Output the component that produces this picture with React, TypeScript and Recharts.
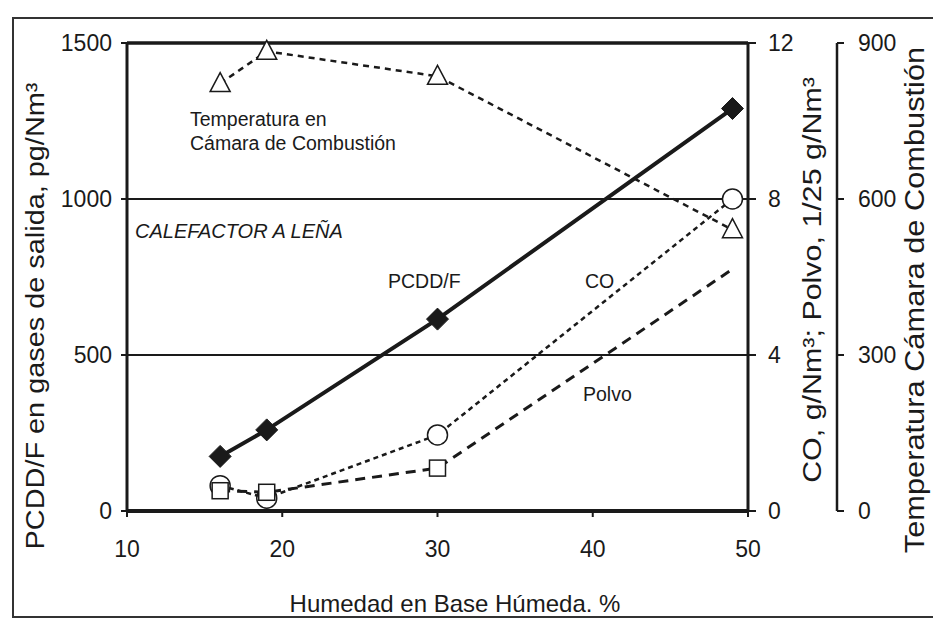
import { CartesianGrid, ComposedChart, Line, ReferenceLine, XAxis, YAxis } from "recharts";

// humedad en base húmeda (%)
const humedad = [16, 19, 30, 49];
const pcddf = [175, 260, 615, 1290];
const co = [0.65, 0.33, 1.95, 8.0];
const polvo = [0.52, 0.48, 1.1, 6.2];
const temperatura = [822, 884, 836, 541];

const xTicks = [10, 20, 30, 40, 50];
const pcddTicks = [0, 500, 1000, 1500];
const coTicks = [0, 4, 8, 12];
const tempTicks = [0, 300, 600, 900];

const data = humedad.map((h, i) => ({
  h,
  pcddf: pcddf[i],
  co: co[i],
  polvo: polvo[i],
  temp: temperatura[i],
}));

const FONT = "'Liberation Sans', Arial, Helvetica, sans-serif";
const INK = "#1a1a1a";

function Diamond(p: any) {
  const { cx, cy } = p;
  const r = 11;
  return (
    <polygon
      key={`d${p.index}`}
      points={`${cx},${cy - r} ${cx + r},${cy} ${cx},${cy + r} ${cx - r},${cy}`}
      fill={INK}
      stroke={INK}
    />
  );
}

function OpenCircle(p: any) {
  return <circle key={`c${p.index}`} cx={p.cx} cy={p.cy} r={10} fill="#fff" stroke={INK} strokeWidth={1.5} />;
}

// el último cuadrado de Polvo no se ve en el original
function OpenSquare(p: any) {
  if (p.index === 3) return <g key={`s${p.index}`} />;
  return (
    <rect key={`s${p.index}`} x={p.cx - 8} y={p.cy - 8} width={16} height={16} fill="#fff" stroke={INK} strokeWidth={1.5} />
  );
}

function OpenTriangle(p: any) {
  const { cx, cy } = p;
  return (
    <polygon
      key={`t${p.index}`}
      points={`${cx},${cy - 11} ${cx + 10},${cy + 8} ${cx - 10},${cy + 8}`}
      fill="#fff"
      stroke={INK}
      strokeWidth={1.5}
    />
  );
}

const tickStyle = { fontSize: 23, fill: INK, fontFamily: FONT };

function Note({ x, y, size, children, italic }: any) {
  return (
    <div
      style={{
        position: "absolute",
        left: x,
        top: y,
        fontSize: size,
        lineHeight: `${size + 4}px`,
        fontStyle: italic ? "italic" : "normal",
        whiteSpace: "nowrap",
        color: INK,
      }}
    >
      {children}
    </div>
  );
}

// texto vertical; el escaneo original está algo estirado en vertical
function VText({ x, y, size, stretch = 1, children }: any) {
  return (
    <div
      style={{
        position: "absolute",
        left: x,
        top: y,
        fontSize: size,
        whiteSpace: "nowrap",
        color: INK,
        transform: `translate(-50%, -50%) rotate(-90deg) scaleX(${stretch})`,
      }}
    >
      {children}
    </div>
  );
}

export default function App() {
  return (
    <div
      style={{
        position: "absolute",
        left: 0,
        top: 0,
        width: 933,
        height: 618,
        background: "#fff",
        fontFamily: FONT,
        overflow: "hidden",
      }}
    >
      <div
        style={{
          position: "absolute",
          left: 12,
          top: 17,
          width: 940,
          height: 597,
          borderTop: "2px solid #333",
          borderLeft: "2px solid #333",
          borderBottom: "2px solid #333",
        }}
      />
      <ComposedChart
        width={933}
        height={618}
        data={data}
        margin={{ top: 43, right: 0, bottom: 0, left: 0 }}
        style={{ position: "absolute", left: 0, top: 0 }}
      >
        <CartesianGrid yAxisId="p" vertical={false} stroke={INK} strokeWidth={2} />
        <XAxis
          dataKey="h"
          type="number"
          domain={[10, 50]}
          ticks={xTicks}
          height={107}
          tick={tickStyle}
          tickSize={6}
          tickMargin={24}
          axisLine={{ stroke: INK, strokeWidth: 4 }}
          tickLine={{ stroke: INK, strokeWidth: 2 }}
        />
        <YAxis
          yAxisId="p"
          domain={[0, 1500]}
          ticks={pcddTicks}
          width={127}
          tick={tickStyle}
          tickSize={6}
          tickMargin={9}
          axisLine={{ stroke: INK, strokeWidth: 3 }}
          tickLine={{ stroke: INK, strokeWidth: 2 }}
        />
        <YAxis
          yAxisId="co"
          orientation="right"
          domain={[0, 12]}
          ticks={coTicks}
          width={89}
          tick={tickStyle}
          tickSize={8}
          tickMargin={12}
          axisLine={{ stroke: INK, strokeWidth: 3 }}
          tickLine={{ stroke: INK, strokeWidth: 2 }}
        />
        <YAxis
          yAxisId="t"
          orientation="right"
          domain={[0, 900]}
          ticks={tempTicks}
          width={96}
          tick={tickStyle}
          tickSize={7}
          tickMargin={14}
          axisLine={{ stroke: INK, strokeWidth: 2.5 }}
          tickLine={{ stroke: INK, strokeWidth: 2 }}
        />
        <ReferenceLine yAxisId="p" y={1500} stroke={INK} strokeWidth={3.5} />
        <Line
          yAxisId="t"
          dataKey="temp"
          type="linear"
          stroke={INK}
          strokeWidth={2.5}
          strokeDasharray="6 5"
          dot={OpenTriangle}
          isAnimationActive={false}
        />
        <Line
          yAxisId="co"
          dataKey="co"
          type="linear"
          stroke={INK}
          strokeWidth={2.5}
          strokeDasharray="5 4"
          dot={OpenCircle}
          isAnimationActive={false}
        />
        <Line
          yAxisId="co"
          dataKey="polvo"
          type="linear"
          stroke={INK}
          strokeWidth={3}
          strokeDasharray="10 7"
          dot={OpenSquare}
          isAnimationActive={false}
        />
        <Line
          yAxisId="p"
          dataKey="pcddf"
          type="linear"
          stroke={INK}
          strokeWidth={4}
          dot={Diamond}
          isAnimationActive={false}
        />
      </ComposedChart>

      <Note x={190} y={108} size={19.5}>
        Temperatura en
        <br />
        Cámara de Combustión
      </Note>
      <Note x={135} y={219} size={20} italic>
        CALEFACTOR A LEÑA
      </Note>
      <Note x={388} y={270} size={19.5}>
        PCDD/F
      </Note>
      <Note x={585} y={270} size={19.5}>
        CO
      </Note>
      <Note x={583} y={383} size={19.5}>
        Polvo
      </Note>

      <VText x={35} y={316} size={26} stretch={1.11}>
        PCDD/F en gases de salida, pg/Nm³
      </VText>
      <VText x={812} y={280} size={26} stretch={1.17}>
        CO, g/Nm³; Polvo, 1/25 g/Nm³
      </VText>
      <VText x={915} y={300} size={27} stretch={1.14}>
        Temperatura Cámara de Combustión
      </VText>
      <div
        style={{
          position: "absolute",
          left: 455,
          top: 590,
          transform: "translateX(-50%)",
          fontSize: 24,
          whiteSpace: "nowrap",
          color: INK,
        }}
      >
        Humedad en Base Húmeda. %
      </div>
    </div>
  );
}
